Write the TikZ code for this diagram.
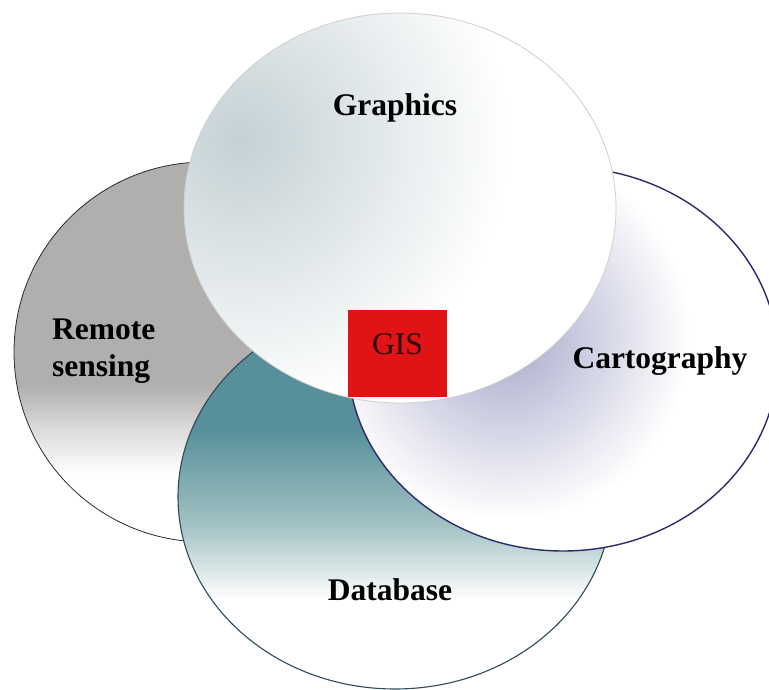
\documentclass[tikz,border=0pt]{standalone}
\usepackage{fontspec}
\setmainfont{Liberation Serif}
\definecolor{rsgray}{HTML}{B0AFAD}
\definecolor{rslight}{HTML}{DCDCDC}
\definecolor{rsline}{HTML}{2A2A2A}
\definecolor{dbteal}{HTML}{57909A}
\definecolor{dbmid}{HTML}{A3C2C4}
\definecolor{dbline}{HTML}{2F4A5A}
\definecolor{cglav}{HTML}{A6A8CA}
\definecolor{cgline}{HTML}{2B2B6B}
\definecolor{grblue}{HTML}{C4D1D5}
\definecolor{grline}{HTML}{CFCFCF}
\definecolor{gisred}{HTML}{E01414}
\definecolor{gistext}{HTML}{2A0A0A}
\begin{document}
\begin{tikzpicture}[x=1pt,y=-1pt,
  lbl/.style={font=\fontsize{31.5}{37}\selectfont\bfseries, inner sep=0pt, text=black}]
\useasboundingbox (0,0) rectangle (769,690);
\fill[white] (0,0) rectangle (769,690);

% Remote sensing
\begin{scope}
  \clip (205,352) ellipse [x radius=191pt, y radius=190pt];
  \fill[rsgray] (0,150) rectangle (420,385);
  \shade[top color=rsgray, bottom color=rslight] (0,385) rectangle (420,430);
  \shade[top color=rslight, bottom color=white] (0,430) rectangle (420,475);
  \fill[white] (0,475) rectangle (420,560);
\end{scope}
\draw[rsline, line width=0.8pt] (205,352) ellipse [x radius=191pt, y radius=190pt];

% Database
\begin{scope}
  \clip (395,497) ellipse [x radius=217pt, y radius=192pt];
  \fill[dbteal] (170,300) rectangle (620,430);
  \shade[top color=dbteal, bottom color=dbmid] (170,430) rectangle (620,525);
  \shade[top color=dbmid, bottom color=white] (170,525) rectangle (620,600);
  \fill[white] (170,600) rectangle (620,700);
\end{scope}
\draw[dbline, line width=1.1pt] (395,497) ellipse [x radius=217pt, y radius=192pt];

% Cartography
\begin{scope}
  \clip (563,359) ellipse [x radius=215pt, y radius=192pt];
  \fill[white] (340,160) rectangle (790,560);
  \shade[inner color=cglav, outer color=white] (505,335) circle [radius=185pt];
\end{scope}
\draw[cgline, line width=1.4pt] (563,359) ellipse [x radius=215pt, y radius=192pt];

% Graphics
\begin{scope}
  \clip (400,208) ellipse [x radius=216pt, y radius=195pt];
  \fill[white] (180,10) rectangle (620,410);
  \shade[inner color=grblue, outer color=white] (240,140) circle [radius=270pt];
\end{scope}
\draw[grline, line width=0.8pt] (400,208) ellipse [x radius=216pt, y radius=195pt];

% GIS
\node[fill=gisred, minimum width=99pt, minimum height=87pt, inner sep=0pt,
      text depth=18pt, font=\fontsize{31.5}{37}\selectfont, text=gistext]
      (gis) at (397.5,353.5) {GIS};

% Labels
\node[lbl, anchor=base] (graphics) at (395,116) {Graphics};
\node[lbl, anchor=base] (carto) at (660,368) {Cartography};
\node[lbl, anchor=base] (db) at (390,600) {Database};
\node[lbl, anchor=north west, align=left] (rs) at (52,319) {Remote\\sensing};
\end{tikzpicture}
\end{document}
